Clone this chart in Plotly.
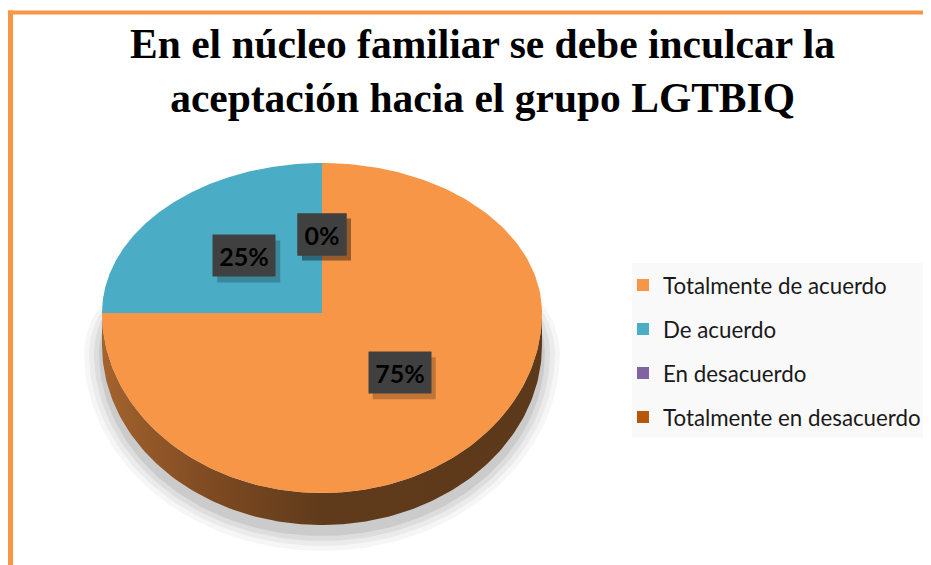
import numpy as np
import plotly.graph_objects as go

# ---- data ----
title_lines = ["En el núcleo familiar se debe inculcar la", "aceptación hacia el grupo LGTBIQ"]
categories = ["Totalmente de acuerdo", "De acuerdo", "En desacuerdo", "Totalmente en desacuerdo"]
values = [75, 25, 0, 0]
pct_labels = ["75%", "25%", "0%", "0%"]

# ---- style ----
face_colors = ["#F79646", "#4BACC6", "#8064A2", "#B65708"]
wall_scales = [
    [[0, "#a3632e"], [0.25, "#7e4a22"], [0.5, "#603b1b"], [1, "#5c391a"]],
    [[0, "#2f7f95"], [1, "#23606f"]],
    [[0, "#5a4676"], [1, "#433457"]],
    [[0, "#8a4206"], [1, "#633004"]],
]
OFF = 8                       # page body margin
W, H = 931 - OFF, 565 - OFF   # figure size that fits the window
cx, cy = 322, 313             # pie centre (screen pixels)
rx, r_top, r_bot = 220, 150, 180
depth = 32

def ey(t):
    s = np.sin(t)
    r = np.where(s >= 0, r_top, r_bot)
    return cy - r * s

def ex(t):
    return cx + rx * np.cos(t)

def px(x):   # screen x -> paper
    return (x - OFF) / W

def py(y):   # screen y -> paper
    return 1 - (y - OFF) / H

fig = go.Figure()
shapes = []

# soft shadow beneath pie
for k, a in enumerate([0.035, 0.045, 0.06, 0.08]):
    grow = 18 - 5 * k
    t = np.linspace(0, 2 * np.pi, 200)
    s = np.sin(t)
    xs = cx + (rx + grow) * np.cos(t)
    ys = cy + depth + 8 - np.where(s >= 0, r_top - 20, r_bot + grow) * s
    fig.add_trace(go.Scatter(x=xs, y=ys, mode="lines", fill="toself", line=dict(width=0),
                             fillcolor=f"rgba(0,0,0,{a})", hoverinfo="skip", showlegend=False))

total = sum(values)
angles = []
a = np.pi / 2
for v in values:
    span = 2 * np.pi * v / total
    angles.append((a, a - span))
    a -= span

# side walls (front half only: angles where sin < 0)
for i, (a0, a1) in enumerate(angles):
    if values[i] <= 0:
        continue
    lo, hi = min(a0, a1), max(a0, a1)
    for off in (-2 * np.pi, 0, 2 * np.pi):
        l, h = max(lo, -np.pi + off), min(hi, off)
        if h > l:
            t = np.linspace(l, h, 150)
            xt, yt = ex(t), ey(t)
            xs = np.concatenate([xt, xt[::-1]])
            ys = np.concatenate([yt, (yt + depth)[::-1]])
            fig.add_trace(go.Scatter(x=xs, y=ys, mode="lines", fill="toself", line=dict(width=0),
                                     fillgradient=dict(type="horizontal", colorscale=wall_scales[i],
                                                       start=cx - rx, stop=cx + rx),
                                     hoverinfo="skip", showlegend=False))

# top faces
for i, (a0, a1) in enumerate(angles):
    if values[i] <= 0:
        continue
    t = np.linspace(a0, a1, 200)
    xs = np.concatenate([[cx], ex(t), [cx]])
    ys = np.concatenate([[cy], ey(t), [cy]])
    fig.add_trace(go.Scatter(x=xs, y=ys, mode="lines", fill="toself", line=dict(width=0),
                             fillcolor=face_colors[i], name=categories[i],
                             hoverinfo="name", showlegend=False))

# legend entries
for i, c in enumerate(categories):
    fig.add_trace(go.Scatter(x=[None], y=[None], mode="markers", name=c, legendgroup=c,
                             marker=dict(symbol="square", size=12, color=face_colors[i])))

# data labels (dark boxes with drop shadow)
for i, (a0, a1) in enumerate(angles):
    mid = (a0 + a1) / 2
    lx = cx + 0.5 * rx * np.cos(mid)
    ly = cy + (float(ey(np.array(mid))) - cy) * 0.5 - 4
    bw = 20 + 14 * len(pct_labels[i])
    bh = 41
    shapes.append(dict(type="rect", xref="x", yref="y",
                       x0=lx - bw / 2 + 4, x1=lx + bw / 2 + 5, y0=ly - bh / 2 + 5, y1=ly + bh / 2 + 6,
                       fillcolor="rgba(0,0,0,0.22)", line=dict(width=0), layer="above"))
    fig.add_annotation(x=lx, y=ly, xref="x", yref="y", showarrow=False,
                       text=f"<b>{pct_labels[i]}</b>", width=bw, height=bh, borderpad=0,
                       font=dict(family="Lato", size=25, color="#000000"),
                       bgcolor="#404040")

# title
fig.add_annotation(x=482, y=71, xref="x", yref="y", xanchor="center", yanchor="middle",
                   showarrow=False, text="<b>" + "<br>".join(title_lines) + "</b>",
                   font=dict(family="Liberation Serif", size=41.5, color="#000000"))

shapes += [
    dict(type="rect", xref="x", yref="y", x0=632, x1=929, y0=263, y1=438,
         fillcolor="#f9f9f9", line=dict(width=0), layer="below"),
    dict(type="line", xref="x", yref="y", x0=8, x1=OFF + W, y0=12.5, y1=12.5,
         line=dict(color="#F79646", width=4)),
    dict(type="line", xref="x", yref="y", x0=10.5, x1=10.5, y0=10.5, y1=OFF + H,
         line=dict(color="#F79646", width=5)),
]

fig.update_layout(
    width=W, height=H,
    margin=dict(l=0, r=0, t=0, b=0),
    paper_bgcolor="white", plot_bgcolor="white",
    xaxis=dict(range=[OFF, OFF + W], visible=False, fixedrange=True),
    yaxis=dict(range=[OFF + H, OFF], visible=False, fixedrange=True),
    legend=dict(x=px(623), y=py(264), xanchor="left", yanchor="top",
                bgcolor="rgba(0,0,0,0)", font=dict(family="Lato", size=22.3, color="#1a1a1a"),
                tracegroupgap=12, traceorder="grouped"),
    showlegend=True,
    shapes=shapes,
)

fig.write_html("out.html")
